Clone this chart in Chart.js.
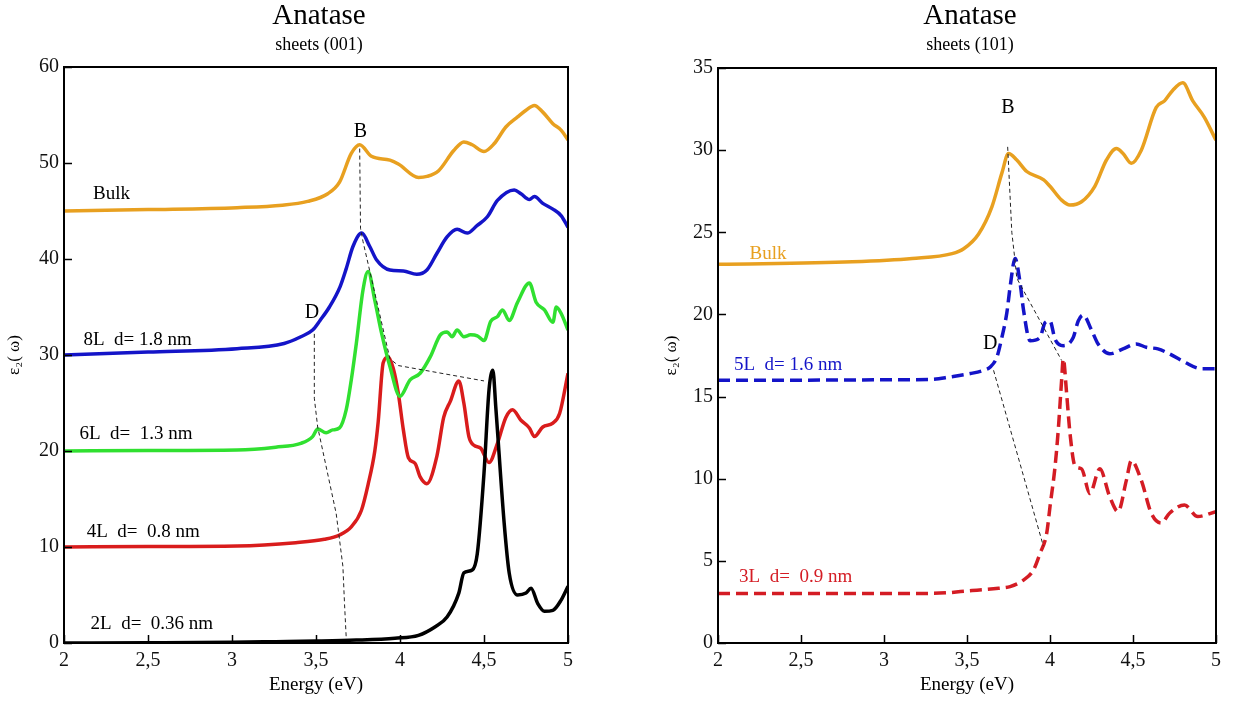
<!DOCTYPE html>
<html>
<head>
<meta charset="utf-8">
<title>Anatase sheets - eps2</title>
<script src="https://cdn.jsdelivr.net/npm/chart.js@4.4.1/dist/chart.umd.min.js"></script>
<style>
	html, body { margin: 0; padding: 0; background: #fff; }
	#wrap { position: relative; width: 1235px; height: 702px; }
	canvas { position: absolute; top: 0; }
	#left { left: 0; }
	#right { left: 617px; }
</style>
</head>
<body>
<div id="wrap">
	<canvas id="left" width="617" height="702"></canvas>
	<canvas id="right" width="618" height="702"></canvas>
</div>
<script>
// ---- sheets (001) ----
const eBulk001 = [2.0, 2.5, 3.03, 3.3, 3.45, 3.57, 3.64, 3.71, 3.76, 3.83, 3.94, 3.99, 4.11, 4.16, 4.23, 4.32, 4.38, 4.43, 4.50, 4.56, 4.63, 4.70, 4.75, 4.80, 4.85, 4.91, 4.96, 5.0];
const yBulk001 = [45.0, 45.15, 45.35, 45.6, 46.0, 46.8, 48.0, 51.0, 51.9, 50.7, 50.3, 49.9, 48.5, 48.6, 49.2, 51.3, 52.2, 51.9, 51.2, 52.0, 53.75, 54.8, 55.5, 56.0, 55.3, 54.1, 53.4, 52.4];

const e8L = [2.0, 2.5, 3.03, 3.31, 3.41, 3.48, 3.524, 3.58, 3.643, 3.68, 3.72, 3.772, 3.82, 3.861, 3.94, 4.02, 4.10, 4.16, 4.22, 4.28, 4.34, 4.40, 4.46, 4.52, 4.58, 4.68, 4.72, 4.77, 4.80, 4.85, 4.91, 4.96, 5.0];
const y8L = [30.0, 30.3, 30.66, 31.2, 31.9, 32.6, 33.6, 35.0, 37.1, 39.0, 41.3, 42.7, 41.3, 39.9, 38.85, 38.75, 38.4, 38.85, 40.6, 42.3, 43.1, 42.7, 43.5, 44.4, 46.1, 47.2, 46.8, 46.2, 46.5, 45.8, 45.2, 44.5, 43.3];

const e6L = [2.0, 2.5, 3.03, 3.26, 3.41, 3.48, 3.51, 3.56, 3.60, 3.64, 3.68, 3.71, 3.74, 3.78, 3.81, 3.85, 3.89, 3.94, 4.0, 4.06, 4.12, 4.18, 4.24, 4.28, 4.31, 4.34, 4.38, 4.42, 4.46, 4.50, 4.54, 4.58, 4.61, 4.65, 4.70, 4.77, 4.81, 4.86, 4.91, 4.93, 4.96, 5.0];
const y6L = [20.0, 20.05, 20.1, 20.4, 20.8, 21.5, 22.3, 21.9, 22.2, 22.4, 24.3, 27.4, 31.2, 36.8, 38.7, 35.7, 32.3, 28.8, 25.7, 27.4, 28.1, 29.8, 32.1, 32.4, 31.9, 32.6, 31.9, 32.1, 32.0, 31.5, 33.5, 34.0, 34.7, 33.6, 35.5, 37.5, 35.5, 34.7, 33.4, 35.0, 34.3, 32.6];

const e4L = [2.0, 2.5, 3.03, 3.38, 3.55, 3.64, 3.71, 3.77, 3.81, 3.85, 3.87, 3.90, 3.93, 3.96, 3.99, 4.02, 4.05, 4.09, 4.12, 4.16, 4.22, 4.26, 4.30, 4.35, 4.38, 4.41, 4.44, 4.48, 4.53, 4.58, 4.63, 4.67, 4.72, 4.77, 4.80, 4.85, 4.91, 4.95, 5.0];
const y4L = [10.0, 10.05, 10.1, 10.45, 10.8, 11.25, 12.1, 13.8, 16.5, 20.0, 23.0, 29.2, 29.8, 28.6, 26.0, 22.2, 19.3, 18.7, 17.3, 16.6, 19.5, 23.5, 25.2, 27.3, 25.0, 21.5, 20.6, 20.3, 18.8, 20.8, 23.5, 24.3, 23.2, 22.4, 21.5, 22.5, 22.9, 23.9, 28.1];

const e2L = [2.0, 2.5, 3.0, 3.26, 3.5, 3.74, 3.97, 4.11, 4.21, 4.28, 4.35, 4.38, 4.43, 4.46, 4.50, 4.53, 4.553, 4.57, 4.62, 4.65, 4.70, 4.75, 4.78, 4.82, 4.86, 4.91, 4.96, 5.0];
const y2L = [0.0, 0.03, 0.08, 0.14, 0.2, 0.3, 0.5, 0.8, 1.7, 2.7, 5.2, 7.3, 7.6, 9.3, 17.7, 26.4, 28.4, 24.6, 12.5, 7.3, 5.0, 5.2, 5.7, 4.1, 3.3, 3.4, 4.5, 5.9];

// guide lines B and D
const eGuideB001 = [3.76, 3.765, 3.78, 3.94, 3.99, 4.50];
const yGuideB001 = [51.5, 43.2, 41.8, 29.6, 28.9, 27.3];
const eGuideD001 = [3.49, 3.49, 3.51, 3.62, 3.66, 3.67, 3.68];
const yGuideD001 = [32.2, 25.5, 22.5, 13.5, 8.0, 4.0, 0.5];

// ---- sheets (101) ----
const eBulk101 = [2.0, 2.81, 3.17, 3.41, 3.48, 3.57, 3.65, 3.71, 3.75, 3.80, 3.86, 3.96, 4.00, 4.07, 4.12, 4.19, 4.27, 4.34, 4.40, 4.44, 4.49, 4.55, 4.64, 4.69, 4.74, 4.80, 4.86, 4.93, 5.0];
const yBulk101 = [23.05, 23.2, 23.4, 23.7, 24.0, 24.9, 26.55, 28.6, 29.8, 29.4, 28.7, 28.2, 27.8, 26.96, 26.66, 26.86, 27.8, 29.4, 30.1, 29.8, 29.2, 30.0, 32.6, 33.0, 33.65, 34.1, 33.0, 32.0, 30.6];

const e5L = [2.0, 2.5, 3.0, 3.29, 3.40, 3.52, 3.60, 3.64, 3.68, 3.71, 3.74, 3.76, 3.79, 3.82, 3.84, 3.88, 3.94, 3.97, 4.0, 4.03, 4.08, 4.14, 4.17, 4.20, 4.25, 4.29, 4.36, 4.44, 4.52, 4.58, 4.65, 4.72, 4.81, 4.91, 5.0];
const y5L = [16.0, 16.0, 16.02, 16.05, 16.2, 16.4, 16.6, 16.8, 17.4, 18.6, 20.1, 21.7, 23.4, 21.9, 20.3, 18.4, 18.6, 19.5, 19.6, 18.5, 18.1, 18.6, 19.6, 19.96, 19.05, 18.2, 17.6, 17.9, 18.2, 18.0, 17.9, 17.6, 17.1, 16.7, 16.7];

const e3L = [2.0, 2.5, 3.0, 3.29, 3.53, 3.69, 3.76, 3.84, 3.90, 3.94, 3.98, 4.00, 4.03, 4.05, 4.07, 4.08, 4.10, 4.12, 4.15, 4.19, 4.24, 4.30, 4.36, 4.41, 4.46, 4.49, 4.55, 4.61, 4.67, 4.72, 4.81, 4.89, 5.0];
const y3L = [3.02, 3.02, 3.02, 3.02, 3.19, 3.33, 3.43, 3.83, 4.44, 5.46, 6.67, 8.3, 10.7, 13.0, 16.0, 17.3, 15.2, 12.8, 10.8, 10.6, 9.1, 10.6, 8.9, 8.0, 9.9, 11.1, 9.9, 7.9, 7.3, 7.9, 8.4, 7.7, 8.0];

const eGuideB101 = [3.745, 3.77, 3.79, 3.80, 4.07];
const yGuideB101 = [30.2, 25.0, 23.2, 22.2, 17.2];
const eGuideD101 = [3.66, 3.96];
const yGuideD101 = [16.6, 5.9];

// text labels in data units
const labels001 = [
	{ text: "Bulk", x: 2.173, y: 46.8, color: "#000", align: "left" }
	, { text: "8L  d= 1.8 nm", x: 2.116, y: 31.6, color: "#000", align: "left" }
	, { text: "6L  d=  1.3 nm", x: 2.092, y: 21.8, color: "#000", align: "left" }
	, { text: "4L  d=  0.8 nm", x: 2.135, y: 11.6, color: "#000", align: "left" }
	, { text: "2L  d=  0.36 nm", x: 2.158, y: 2.0, color: "#000", align: "left" }
	, { text: "B", x: 3.765, y: 53.3, color: "#000", align: "center" }
	, { text: "D", x: 3.476, y: 34.4, color: "#000", align: "center" }
];
const labels101 = [
	{ text: "Bulk", x: 2.19, y: 23.7, color: "#E8A020", align: "left" }
	, { text: "5L  d= 1.6 nm", x: 2.096, y: 16.9, color: "#1414C8", align: "left" }
	, { text: "3L  d=  0.9 nm", x: 2.127, y: 4.0, color: "#D41C24", align: "left" }
	, { text: "B", x: 3.747, y: 32.6, color: "#000", align: "center" }
	, { text: "D", x: 3.64, y: 18.2, color: "#000", align: "center" }
];

const SERIF = "'Liberation Serif', 'DejaVu Serif', serif";
Chart.defaults.font.family = SERIF;
Chart.defaults.color = "#000";

function pts(xs, ys) {
	return xs.map((x, i) => ({ x: x, y: ys[i] }));
}

function curve(xs, ys, color, dash) {
	return {
		data: pts(xs, ys)
		, borderColor: color
		, borderWidth: 3.5
		, borderDash: dash || []
		, pointRadius: 0
		, cubicInterpolationMode: "monotone"
		, fill: false
	};
}

function guide(xs, ys) {
	return {
		data: pts(xs, ys)
		, borderColor: "#222"
		, borderWidth: 1
		, borderDash: [4, 3]
		, pointRadius: 0
		, tension: 0
		, fill: false
	};
}

// frame, inward ticks, in-plot labels and the two-line title
const framePlugin = {
	id: "frame"
	, afterDatasetsDraw(chart, args, opts) {
		const { ctx, chartArea: a } = chart;
		const xs = chart.scales.x, ys = chart.scales.y;
		ctx.save();
		ctx.strokeStyle = "#000";
		ctx.lineWidth = 2;
		ctx.strokeRect(a.left, a.top, a.right - a.left, a.bottom - a.top);

		ctx.lineWidth = 1.5;
		xs.ticks.forEach(t => {
			const px = Math.round(xs.getPixelForValue(t.value)) + 0.5;
			ctx.beginPath();
			ctx.moveTo(px, a.bottom);
			ctx.lineTo(px, a.bottom - 8);
			ctx.stroke();
		});
		ys.ticks.forEach(t => {
			const py = Math.round(ys.getPixelForValue(t.value)) + 0.5;
			ctx.beginPath();
			ctx.moveTo(a.left, py);
			ctx.lineTo(a.left + 8, py);
			ctx.stroke();
		});

		ctx.textBaseline = "middle";
		opts.labels.forEach(l => {
			ctx.font = (l.text.length === 1 ? "20px " : "19px ") + SERIF;
			ctx.fillStyle = l.color;
			ctx.textAlign = l.align;
			ctx.fillText(l.text, xs.getPixelForValue(l.x), ys.getPixelForValue(l.y));
		});

		const cx = (a.left + a.right) / 2 + 3;
		ctx.fillStyle = "#000";
		ctx.textAlign = "center";
		ctx.textBaseline = "alphabetic";
		ctx.font = "29px " + SERIF;
		ctx.fillText(opts.title, cx, 24);
		ctx.font = "18px " + SERIF;
		ctx.fillText(opts.subtitle, cx, 50);
		ctx.restore();
	}
};

function makeChart(id, datasets, cfg) {
	return new Chart(document.getElementById(id), {
		type: "line"
		, data: { datasets: datasets }
		, plugins: [framePlugin]
		, options: {
			responsive: false
			, animation: false
			, devicePixelRatio: 1
			, layout: { padding: { top: cfg.top, right: cfg.right, bottom: 0, left: 0 } }
			, plugins: {
				legend: { display: false }
				, tooltip: { enabled: false }
				, frame: { labels: cfg.labels, title: "Anatase", subtitle: cfg.subtitle }
			}
			, scales: {
				x: {
					type: "linear"
					, min: 2
					, max: 5
					, grid: { display: false, drawTicks: false }
					, border: { display: false }
					, ticks: {
						stepSize: 0.5
						, padding: 6
						, maxRotation: 0
						, font: { size: 20 }
						, color: "#111"
						, callback: v => String(v).replace(".", ",")
					}
					, title: {
						display: true
						, text: "Energy (eV)"
						, font: { size: 19 }
						, padding: { top: 0, bottom: 6 }
					}
					, afterFit: s => { s.height = 59; }
				}
				, y: {
					min: 0
					, max: cfg.ymax
					, grid: { display: false, drawTicks: false }
					, border: { display: false }
					, ticks: {
						stepSize: cfg.ystep
						, padding: 5
						, font: { size: 20 }
						, color: "#111"
					}
					, title: {
						display: true
						, text: "ε₂( ω)"
						, font: { size: 17 }
						, padding: { top: cfg.ytitlePad, bottom: 0 }
					}
					, afterFit: s => { s.width = cfg.yWidth; }
				}
			}
		}
	});
}

makeChart("left", [
	guide(eGuideB001, yGuideB001)
	, guide(eGuideD001, yGuideD001)
	, curve(e2L, y2L, "#000000")
	, curve(e6L, y6L, "#30E030")
	, curve(e4L, y4L, "#D91C1C")
	, curve(e8L, y8L, "#1414C8")
	, curve(eBulk001, yBulk001, "#E8A020")
], {
	top: 67, right: 49, yWidth: 64, ymax: 60, ystep: 10, ytitlePad: 4
	, labels: labels001, subtitle: "sheets (001)"
});

makeChart("right", [
	guide(eGuideB101, yGuideB101)
	, guide(eGuideD101, yGuideD101)
	, curve(e3L, y3L, "#D41C24", [12, 6])
	, curve(e5L, y5L, "#1414C8", [12, 6])
	, curve(eBulk101, yBulk101, "#E8A020")
], {
	top: 68, right: 19, yWidth: 101, ymax: 35, ystep: 5, ytitlePad: 44
	, labels: labels101, subtitle: "sheets (101)"
});
</script>
</body>
</html>
